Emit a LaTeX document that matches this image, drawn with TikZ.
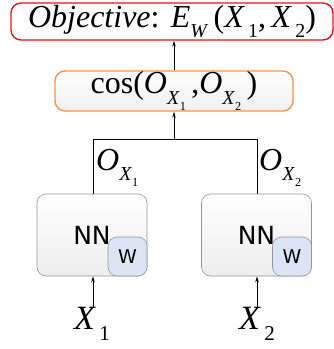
\documentclass[tikz,border=0pt]{standalone}
\usepackage{fontspec}
\setmainfont{Liberation Serif}
\newfontfamily\nnfont{DejaVu Sans}
\usepackage{tikz}
\usetikzlibrary{arrows.meta, positioning, calc}

\definecolor{objred}{RGB}{230,20,30}
\definecolor{cosorange}{RGB}{240,150,80}
\definecolor{boxgray}{RGB}{150,150,150}
\definecolor{wblue}{RGB}{221,229,244}

% lowered subscript, as in the drawing
\newcommand{\lowsub}[1]{\raisebox{-0.32em}{\scalebox{0.62}{#1}}}

\begin{document}
\begin{tikzpicture}[
    x=1pt, y=-1pt,
    objbox/.style={rectangle, draw=objred, fill=white, line width=1.4pt, minimum width=322pt, minimum height=37pt, rounded corners=10pt, align=center, inner sep=0pt, font=\fontsize{32}{32}\selectfont},
    cosbox/.style={rectangle, draw=cosorange, line width=1.4pt, top color=white, bottom color=black!6, minimum width=238pt, minimum height=40pt, rounded corners=10pt, align=center, inner sep=0pt, font=\fontsize{32}{32}\selectfont},
    nnbox/.style={rectangle, draw=boxgray, line width=0.6pt, top color=white, bottom color=black!7, minimum width=110pt, minimum height=82pt, rounded corners=9pt, font=\nnfont\fontsize{25}{25}\selectfont},
    wbox/.style={rectangle, draw=boxgray, line width=0.6pt, fill=wblue, minimum width=39pt, minimum height=39pt, rounded corners=9pt, font=\nnfont\fontsize{19}{19}\selectfont},
    invar/.style={font=\fontsize{34}{34}\selectfont, inner sep=0pt},
    outlab/.style={font=\fontsize{32}{32}\selectfont, inner sep=0pt, anchor=west},
    conn/.style={-{Stealth[length=6pt, width=3.5pt]}, line width=0.8pt},
    wire/.style={line width=0.8pt}
]
    \useasboundingbox (0,0) rectangle (334,349);

    % Objective and similarity
    \node[objbox] (obj) at (172,21.5) {\textit{Objective}:\hspace{0.35em}\textit{E}\lowsub{\textit{W}}\,(\textit{X}\lowsub{\,1},\,\textit{X}\lowsub{\,2})};
    \node[cosbox] (cos) at (174,91) {cos(\textit{O}\lowsub{\textit{X}\lowsub{1}}\,,\textit{O}\lowsub{\textit{X}\lowsub{2}}\,)};
    \coordinate (join) at (174,139);

    % Networks
    \node[nnbox] (nn1) at (92,235) {NN};
    \node[nnbox] (nn2) at (256.5,235) {NN};
    \node[wbox] (w1) at (127.5,256.5) {W};
    \node[wbox] (w2) at (292,256.5) {W};

    % Inputs
    \node[invar] (x1) at (92,324) {\textit{X}\lowsub{\,1}};
    \node[invar] (x2) at (257,324) {\textit{X}\lowsub{\,2}};

    % Connections
    \draw[conn] (x1.north -| nn1) ++(1,0) coordinate (x1top) -- (x1top |- nn1.south);
    \draw[conn] (x2.north -| nn2) ++(0.5,0) coordinate (x2top) -- (x2top |- nn2.south);
    \draw[wire] ($(nn1.north)+(1,0)$) -- ($(nn1.north |- join)+(1,0)$) -- ($(nn2.north |- join)+(0.5,0)$) -- ($(nn2.north)+(0.5,0)$);
    \draw[conn] (join) -- (cos.south);
    \draw[conn] (cos.north) -- (obj.south -| cos.north);

    % Output labels
    \node[outlab] (o1) at (96,168) {\textit{O}\lowsub{\textit{X}\lowsub{1}}};
    \node[outlab] (o2) at (259,168) {\textit{O}\lowsub{\textit{X}\lowsub{2}}};
\end{tikzpicture}
\end{document}
